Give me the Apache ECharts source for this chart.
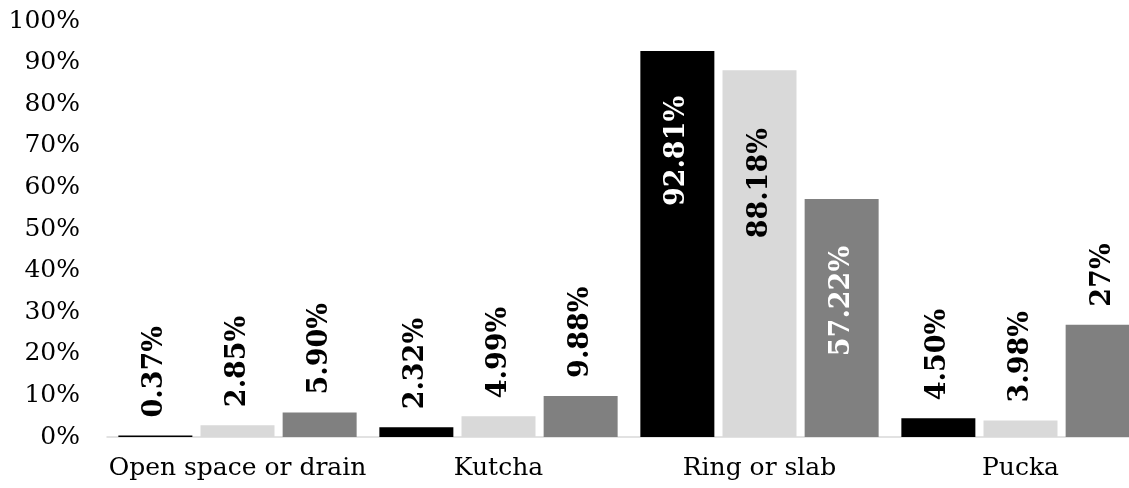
<!DOCTYPE html>
<html>
<head>
<meta charset="utf-8">
<style>
  html, body { margin: 0; padding: 0; background: #ffffff; }
  #chart { width: 1129px; height: 488px; }
</style>
<script src="https://cdn.jsdelivr.net/npm/echarts@6/dist/echarts.min.js"></script>
</head>
<body>
<div id="chart"></div>
<script>
// Toilet type categories and the share of households in each group (%)
const categories = ['Open space or drain', 'Kutcha', 'Ring or slab', 'Pucka'];
const groupA = [0.37, 2.32, 92.81, 4.50];
const groupB = [2.85, 4.99, 88.18, 3.98];
const groupC = [5.90, 9.88, 57.22, 27];
const yTicks = [0, 10, 20, 30, 40, 50, 60, 70, 80, 90, 100];

const FONT = "Georgia, 'DejaVu Serif', serif";

function pct(v) {
  return Number.isInteger(v) ? v + '%' : v.toFixed(2) + '%';
}

// Tall bars carry their label inside near the top; short bars carry it above.
function buildData(values, insideColor, insideDistance) {
  return values.map(function (v) {
    if (v > 50) {
      return {
        value: v,
        label: {
          position: 'insideTop',
          distance: insideDistance,
          align: 'right',
          color: insideColor
        }
      };
    }
    return v;
  });
}

function makeSeries(name, values, color, insideColor, insideDistance) {
  return {
    name: name,
    type: 'bar',
    barWidth: 74,
    barGap: '11%',
    data: buildData(values, insideColor, insideDistance),
    itemStyle: { color: color },
    label: {
      show: true,
      position: 'top',
      distance: 18,
      rotate: 90,
      align: 'left',
      verticalAlign: 'middle',
      color: '#000000',
      fontFamily: FONT,
      fontWeight: 'bold',
      fontSize: 27,
      formatter: function (p) { return pct(p.value); }
    }
  };
}

const chart = echarts.init(document.getElementById('chart'), null, { renderer: 'canvas' });
chart.setOption({
  animation: false,
  backgroundColor: '#ffffff',
  // the last category runs past the right edge of the canvas
  grid: {
    left: 107, top: 21, bottom: 51, width: 1044,
    containLabel: false,
    outerBoundsMode: 'none'
  },
  xAxis: {
    type: 'category',
    data: categories,
    axisLine: { lineStyle: { color: '#d9d9d9', width: 1.5 } },
    axisTick: { show: false },
    axisLabel: {
      interval: 0,
      color: '#000000',
      fontFamily: FONT,
      fontSize: 25,
      margin: 19
    }
  },
  yAxis: {
    type: 'value',
    min: yTicks[0],
    max: yTicks[yTicks.length - 1],
    interval: yTicks[1] - yTicks[0],
    axisLine: { show: false },
    axisTick: { show: false },
    splitLine: { show: false },
    axisLabel: {
      color: '#000000',
      fontFamily: FONT,
      fontSize: 25,
      margin: 27,
      formatter: function (v) { return v + '%'; }
    }
  },
  series: [
    makeSeries('A', groupA, '#000000', '#ffffff', 45),
    makeSeries('B', groupB, '#d9d9d9', '#000000', 58),
    makeSeries('C', groupC, '#808080', '#ffffff', 47)
  ]
});
</script>
</body>
</html>
